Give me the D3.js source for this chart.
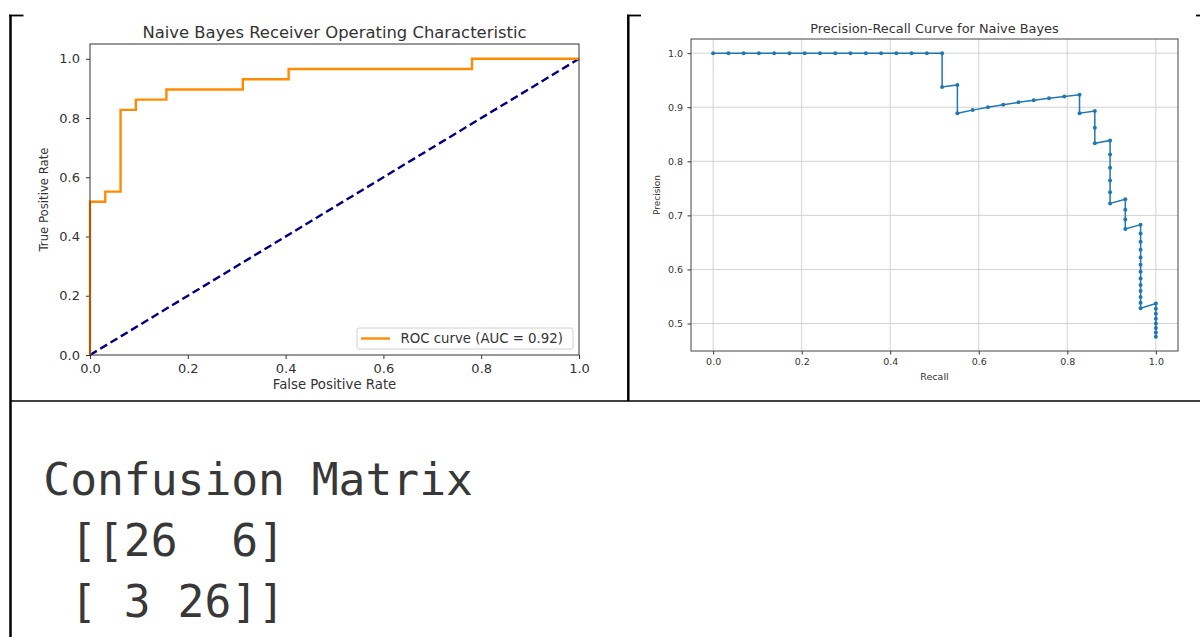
<!DOCTYPE html>
<html>
<head>
<meta charset="utf-8">
<script src="https://cdn.jsdelivr.net/npm/d3@7"></script>
<style>
  body { margin: 0; background: #fff; }
  svg { display: block; }
  text { font-family: "DejaVu Sans", sans-serif; }
</style>
</head>
<body>
<svg id="chart" width="1200" height="637"></svg>
<script>
// ROC curve points (fpr, tpr) as returned by roc_curve
var rocFpr = [0, 0, 0.03125, 0.03125, 0.0625, 0.0625, 0.09375, 0.09375, 0.15625, 0.15625,
              0.3125, 0.3125, 0.40625, 0.40625, 0.78125, 0.78125, 1.0];
var rocTpr = [0, 0.5172, 0.5172, 0.5517, 0.5517, 0.8276, 0.8276, 0.8621, 0.8621, 0.8966,
              0.8966, 0.931, 0.931, 0.9655, 0.9655, 1.0, 1.0];
var chanceLine = [0, 1];
var rocTicks = [0, 0.2, 0.4, 0.6, 0.8, 1.0];
var rocLegend = "ROC curve (AUC = 0.92)";

// precision-recall points
var prRecall = [0, 0.0345, 0.069, 0.1034, 0.1379, 0.1724, 0.2069, 0.2414, 0.2759, 0.3103,
                0.3448, 0.3793, 0.4138, 0.4483, 0.4828, 0.5172,
                0.5172, 0.5517, 0.5517, 0.5862, 0.6207, 0.6552, 0.6897, 0.7241, 0.7586, 0.7931, 0.8276,
                0.8276, 0.8621, 0.8621, 0.8621,
                0.8966, 0.8966, 0.8966, 0.8966, 0.8966, 0.8966,
                0.931, 0.931, 0.931, 0.931,
                0.9655, 0.9655, 0.9655, 0.9655, 0.9655, 0.9655, 0.9655, 0.9655, 0.9655, 0.9655, 0.9655, 0.9655, 0.9655,
                1.0, 1.0, 1.0, 1.0, 1.0, 1.0, 1.0, 1.0];
var prPrecision = [1, 1, 1, 1, 1, 1, 1, 1, 1, 1,
                   1, 1, 1, 1, 1, 1,
                   0.9375, 0.9412, 0.8889, 0.8947, 0.9, 0.9048, 0.9091, 0.913, 0.9167, 0.92, 0.9231,
                   0.8889, 0.8929, 0.8621, 0.8333,
                   0.8387, 0.8125, 0.7879, 0.7647, 0.7429, 0.7222,
                   0.7297, 0.7105, 0.6923, 0.675,
                   0.6829, 0.6667, 0.6512, 0.6364, 0.6222, 0.6087, 0.5957, 0.5833, 0.5714, 0.56, 0.549, 0.5385, 0.5283,
                   0.537, 0.5273, 0.5179, 0.5088, 0.5, 0.4915, 0.4833, 0.4754];
var prXTicks = [0, 0.2, 0.4, 0.6, 0.8, 1.0];
var prYTicks = [0.5, 0.6, 0.7, 0.8, 0.9, 1.0];

var confusion = [[26, 6], [3, 26]];

var svg = d3.select("#chart");
svg.append("rect").attr("width", 1200).attr("height", 637).attr("fill", "#fff");

// table frame
var frame = svg.append("g").attr("stroke", "#000").attr("fill", "none");
frame.append("line").attr("x1", 10.5).attr("x2", 10.5).attr("y1", 14.7).attr("y2", 637).attr("stroke-width", 2.5);
frame.append("line").attr("x1", 9).attr("x2", 23.5).attr("y1", 15.5).attr("y2", 15.5).attr("stroke-width", 1.8);
frame.append("line").attr("x1", 628.3).attr("x2", 628.3).attr("y1", 14.7).attr("y2", 401).attr("stroke-width", 2.5);
frame.append("line").attr("x1", 627).attr("x2", 641).attr("y1", 15.5).attr("y2", 15.5).attr("stroke-width", 1.8);
frame.append("line").attr("x1", 1196).attr("x2", 1200).attr("y1", 15.5).attr("y2", 15.5).attr("stroke-width", 1.8);
frame.append("line").attr("x1", 10).attr("x2", 1200).attr("y1", 401).attr("y2", 401).attr("stroke-width", 1.6);

function styleAxis(g, size) {
  g.select(".domain").remove();
  g.selectAll(".tick line").attr("stroke", "#333");
  g.selectAll(".tick text").attr("fill", "#333").style("font-size", size + "px")
    .style("font-family", "'DejaVu Sans', sans-serif");
}

// ---------- ROC ----------
var rx = d3.scaleLinear().domain([0, 1]).range([90, 579]);
var ry = d3.scaleLinear().domain([0, 1.05]).range([355, 44]);
var roc = svg.append("g");

roc.append("g").attr("transform", "translate(0,355)")
  .call(d3.axisBottom(rx).tickValues(rocTicks).tickFormat(d3.format(".1f")).tickSize(4).tickPadding(5))
  .call(styleAxis, 13);
roc.append("g").attr("transform", "translate(90,0)")
  .call(d3.axisLeft(ry).tickValues(rocTicks).tickFormat(d3.format(".1f")).tickSize(4).tickPadding(6))
  .call(styleAxis, 13);

roc.append("path")
  .attr("d", d3.line().x(function (d) { return rx(d); }).y(function (d) { return ry(d); })(chanceLine))
  .attr("fill", "none").attr("stroke", "navy").attr("stroke-width", 2.4).attr("stroke-dasharray", "8,4");

roc.append("path")
  .attr("d", d3.line().x(function (d, i) { return rx(rocFpr[i]); }).y(function (d) { return ry(d); })(rocTpr))
  .attr("fill", "none").attr("stroke", "darkorange").attr("stroke-width", 2.4);

roc.append("rect").attr("x", 90).attr("y", 44).attr("width", 489).attr("height", 311)
  .attr("fill", "none").attr("stroke", "#333").attr("stroke-width", 1);

var leg = roc.append("g");
leg.append("rect").attr("x", 357).attr("y", 328).attr("width", 216).attr("height", 21).attr("rx", 2)
  .attr("fill", "#fff").attr("fill-opacity", 0.8).attr("stroke", "#d0d0d0");
leg.append("line").attr("x1", 361).attr("x2", 390).attr("y1", 338.5).attr("y2", 338.5)
  .attr("stroke", "darkorange").attr("stroke-width", 2.4);
leg.append("text").attr("x", 400.5).attr("y", 338.5).attr("dy", "0.36em")
  .style("font-size", "13.3px").attr("fill", "#333").text(rocLegend);

roc.append("text").attr("x", 334.5).attr("y", 37.7).attr("text-anchor", "middle")
  .style("font-size", "16.4px").attr("fill", "#333").text("Naive Bayes Receiver Operating Characteristic");
roc.append("text").attr("x", 334.5).attr("y", 389).attr("text-anchor", "middle")
  .style("font-size", "13.3px").attr("fill", "#333").text("False Positive Rate");
roc.append("text").attr("transform", "translate(48.3,199.5) rotate(-90)").attr("text-anchor", "middle")
  .style("font-size", "11.7px").attr("fill", "#333").text("True Positive Rate");

// ---------- Precision-Recall ----------
var pExt = d3.extent(prPrecision), pPad = (pExt[1] - pExt[0]) * 0.05;
var px = d3.scaleLinear().domain([-0.05, 1.05]).range([691, 1178]);
var py = d3.scaleLinear().domain([pExt[0] - pPad, pExt[1] + pPad]).range([351, 39]);
var pr = svg.append("g");

pr.append("g").selectAll("line.gx").data(prXTicks).enter().append("line")
  .attr("x1", function (d) { return px(d); }).attr("x2", function (d) { return px(d); })
  .attr("y1", 39).attr("y2", 351).attr("stroke", "#d3d3d3").attr("stroke-width", 1);
pr.append("g").selectAll("line.gy").data(prYTicks).enter().append("line")
  .attr("y1", function (d) { return py(d); }).attr("y2", function (d) { return py(d); })
  .attr("x1", 691).attr("x2", 1178).attr("stroke", "#d3d3d3").attr("stroke-width", 1);

pr.append("g").attr("transform", "translate(0,351)")
  .call(d3.axisBottom(px).tickValues(prXTicks).tickFormat(d3.format(".1f")).tickSize(3.5).tickPadding(4))
  .call(styleAxis, 9.5);
pr.append("g").attr("transform", "translate(691,0)")
  .call(d3.axisLeft(py).tickValues(prYTicks).tickFormat(d3.format(".1f")).tickSize(3.5).tickPadding(4.5))
  .call(styleAxis, 9.5);

pr.append("path")
  .attr("d", d3.line().x(function (d, i) { return px(prRecall[i]); }).y(function (d) { return py(d); })(prPrecision))
  .attr("fill", "none").attr("stroke", "#1f77b4").attr("stroke-width", 1.5);
pr.append("g").selectAll("circle").data(prPrecision).enter().append("circle")
  .attr("cx", function (d, i) { return px(prRecall[i]); })
  .attr("cy", function (d) { return py(d); })
  .attr("r", 2).attr("fill", "#1f77b4");

pr.append("rect").attr("x", 691).attr("y", 39).attr("width", 487).attr("height", 312)
  .attr("fill", "none").attr("stroke", "#444").attr("stroke-width", 1);

pr.append("text").attr("x", 934.5).attr("y", 33.3).attr("text-anchor", "middle")
  .style("font-size", "12.9px").attr("fill", "#333").text("Precision-Recall Curve for Naive Bayes");
pr.append("text").attr("x", 934.5).attr("y", 379.5).attr("text-anchor", "middle")
  .style("font-size", "9.5px").attr("fill", "#333").text("Recall");
pr.append("text").attr("transform", "translate(659.5,195) rotate(-90)").attr("text-anchor", "middle")
  .style("font-size", "9px").attr("fill", "#333").text("Precision");

// ---------- Confusion matrix printout ----------
var w = d3.max(confusion, function (r) { return d3.max(r, function (v) { return String(v).length; }); });
var rows = confusion.map(function (r) {
  return "[" + r.map(function (v) { return String(v).padStart(w, " "); }).join(" ") + "]";
});
var lines = ["Confusion Matrix", " [" + rows[0], " " + rows[1] + "]"];

svg.append("g").selectAll("text").data(lines).enter().append("text")
  .attr("x", 43.3)
  .attr("y", function (d, i) { return 495 + i * 61; })
  .attr("xml:space", "preserve")
  .style("white-space", "pre")
  .style("font-family", "'DejaVu Sans Mono', monospace")
  .style("font-size", "44.6px")
  .attr("fill", "#383838")
  .text(function (d) { return d; });
</script>
</body>
</html>
